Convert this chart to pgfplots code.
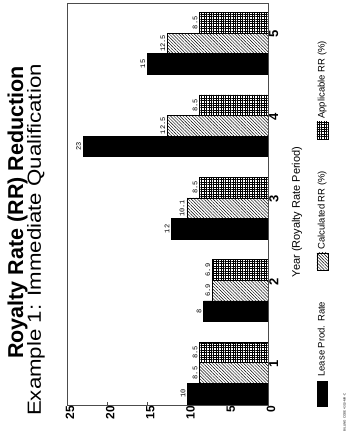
\documentclass[border=0pt]{standalone}
\usepackage{fontspec}
\setmainfont{Liberation Sans}
\setmonofont{Liberation Mono}
\usepackage{pgfplots}
\pgfplotsset{compat=1.18}
\usetikzlibrary{patterns.meta}
\pgfplotsset{
  leaseimg/.style={legend image code/.code={\draw[##1, overlay] (-0.5pt,-4pt) rectangle (9.5pt,-29pt);}},
  otherimg/.style={legend image code/.code={\draw[##1, overlay] (-1pt,-3pt) rectangle (10pt,-20pt);}},
}

\begin{document}
\begin{tikzpicture}[x=1pt,y=1pt]
\useasboundingbox (0,0) rectangle (354,434);
\begin{axis}[
  at={(67pt,29pt)}, anchor=south west,
  scale only axis, width=201pt, height=402pt,
  xbar, x dir=reverse,
  xmin=0, xmax=25, ymin=0.612, ymax=5.49,
  xtick={0,5,10,15,20,25},
  ytick={1,2,3,4,5},
  yticklabel pos=right,
  xtick pos=left,
  tick align=inside,
  major tick length=3pt,
  ytick style={draw=none},
  xtick style={black!70, line width=0.5pt},
  axis line style={black!70, line width=0.5pt},
  /pgf/number format/assume math mode=true,
  xticklabel style={rotate=90, anchor=east, font=\bfseries\fontsize{12}{12}\selectfont, inner sep=1pt, yshift=-3pt},
  yticklabel style={rotate=90, anchor=north, font=\bfseries\fontsize{13}{13}\selectfont, inner sep=1pt, xshift=9pt},
  ylabel={Year (Royalty Rate Period)},
  ylabel style={at={(axis description cs:1.144,0.48)}, anchor=center, rotate=0, font=\fontsize{11}{11}\selectfont},
  bar width=0.25,
  nodes near coords,
  nodes near coords style={rotate=90, anchor=south, inner sep=2pt, font=\ttfamily\fontsize{7}{7}\selectfont},
  reverse legend,
  legend style={at={(axis description cs:1.2687,0.0697)}, anchor=south, draw=none, inner sep=0pt,
    row sep=52pt,
    font=\fontsize{9.5}{9.5}\selectfont,
    nodes={rotate=90, anchor=west, inner sep=0pt},
    /tikz/every odd column/.append style={column sep=0pt},
    /tikz/every even column/.append style={column sep=0pt}},
  otherimg,
]
\addplot[draw=black, fill=black, bar shift=-0.25, leaseimg]
  coordinates {(10,1) (8,2) (12,3) (23,4) (15,5)};
\addlegendentry{Lease Prod. Rate}
\addplot[draw=black, line width=0.5pt, pattern={Lines[angle=-45, distance=2.2pt, line width=0.45pt]}, bar shift=0]
  coordinates {(8.5,1) (6.9,2) (10.1,3) (12.5,4) (12.5,5)};
\addlegendentry{Calculated RR (\%)}
\addplot[draw=black, line width=0.5pt, pattern={Hatch[angle=0, distance=2.4pt, line width=0.45pt]}, bar shift=0.25]
  coordinates {(8.5,1) (6.9,2) (8.5,3) (8.5,4) (8.5,5)};
\addlegendentry{Applicable RR (\%)}
\end{axis}
\node[rotate=90, anchor=center, inner sep=0pt, font=\bfseries\fontsize{21.5}{22}\selectfont] at (17.5,221.5) {Royalty Rate (RR) Reduction};
\node[rotate=90, anchor=center, inner sep=0pt, font=\fontsize{19}{20}\selectfont] at (36,194) {\scalebox{1.17}[1]{Example 1: Immediate Qualification}};
\node[rotate=90, anchor=center, inner sep=0pt, font=\fontsize{3}{3}\selectfont] at (344.5,21.5) {BILLING CODE 4310-MR-C};
\end{tikzpicture}
\end{document}
